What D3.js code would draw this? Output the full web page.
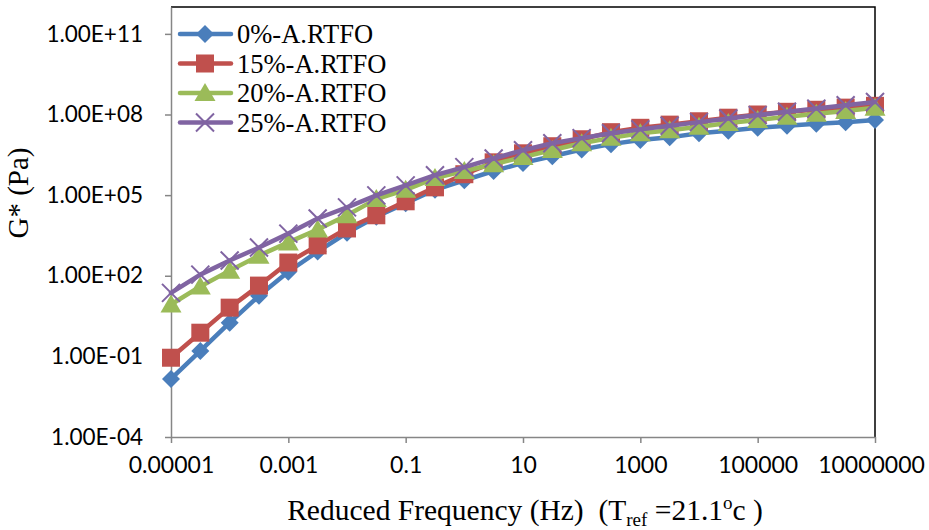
<!DOCTYPE html>
<html>
<head>
<meta charset="utf-8">
<script src="https://cdn.jsdelivr.net/npm/d3@7"></script>
<style>
	body { margin: 0; background: white; }
	svg { display: block; }
	.serif { font-family: 'Liberation Serif', 'Times New Roman', Tinos, 'DejaVu Serif', serif; }
</style>
</head>
<body>
<div id="chart"></div>
<script>
// reduced frequency (Hz), half-decade steps
var freq = [1e-5, 3.16e-5, 1e-4, 3.16e-4, 1e-3, 3.16e-3, 1e-2, 3.16e-2, 0.1, 0.316, 1, 3.16, 10, 31.6,
	100, 316, 1000, 3162, 1e4, 3.16e4, 1e5, 3.16e5, 1e6, 3.16e6, 1e7];

// G* (Pa) per binder
var g0 = [1.45e-2, 0.16, 1.8, 18, 141, 794, 3980, 1.58e4, 5.0e4, 1.58e5, 3.55e5, 7.9e5, 1.58e6, 2.8e6,
	5.0e6, 7.9e6, 1.12e7, 1.41e7, 2.0e7, 2.5e7, 3.2e7, 3.8e7, 4.5e7, 5.2e7, 6.3e7];
var g15 = [8.9e-2, 0.76, 6.5, 43, 310, 1350, 5750, 1.78e4, 5.9e4, 1.95e5, 6.0e5, 1.66e6, 3.6e6, 6.6e6,
	1.2e7, 2.2e7, 3.2e7, 4.2e7, 5.6e7, 7.6e7, 1.0e8, 1.26e8, 1.5e8, 1.8e8, 2.1e8];
var g20 = [8.5, 40, 155, 560, 1740, 5250, 1.78e4, 7.1e4, 1.58e5, 4.3e5, 7.9e5, 1.41e6, 2.6e6, 4.8e6,
	8.5e6, 1.35e7, 2.0e7, 2.6e7, 3.5e7, 4.8e7, 6.3e7, 8.3e7, 1.07e8, 1.35e8, 1.8e8];
var g25 = [23, 110, 370, 1120, 3700, 1.35e4, 3.5e4, 9.8e4, 2.3e5, 5.5e5, 1.1e6, 2.3e6, 4.7e6, 8.5e6,
	1.32e7, 2.0e7, 2.8e7, 3.8e7, 5.2e7, 7.1e7, 9.5e7, 1.26e8, 1.66e8, 2.2e8, 2.9e8];

var seriesNames = ['0%-A.RTFO', '15%-A.RTFO', '20%-A.RTFO', '25%-A.RTFO'];
var seriesValues = [g0, g15, g20, g25];

var xTicks = [1e-5, 1e-3, 0.1, 10, 1000, 1e5, 1e7];
var xTickLabels = ['0.00001', '0.001', '0.1', '10', '1000', '100000', '10000000'];
var yTicks = [1e-4, 1e-1, 1e2, 1e5, 1e8, 1e11];
var yTickLabels = ['1.00E-04', '1.00E-01', '1.00E+02', '1.00E+05', '1.00E+08', '1.00E+11'];

var colors = ['#4a7ebb', '#c0504d', '#9bbb59', '#8064a2'];
var shapes = ['diamond', 'square', 'triangle', 'cross'];

var width = 929;
var height = 530;
var plot = {left: 171, right: 875, top: 7, bottom: 437};

var svg = d3.select('#chart')
	.append('svg')
	.attr('width', width)
	.attr('height', height);

var x = d3.scaleLog()
	.domain([1e-5, 1e7])
	.range([plot.left, plot.right]);

var y = d3.scaleLog()
	.domain([1e-4, 1e12])
	.range([plot.bottom, plot.top]);

// plot frame (top/right)
svg.append('path')
	.attr('d', 'M' + plot.left + ',' + plot.top + 'H' + plot.right + 'V' + plot.bottom)
	.attr('fill', 'none')
	.attr('stroke', '#000')
	.attr('stroke-width', 1.5);

// x axis
var xAxis = svg.append('g')
	.attr('transform', 'translate(0,' + plot.bottom + ')')
	.call(d3.axisBottom(x)
		.tickValues(xTicks)
		.tickFormat(function(d, i) { return xTickLabels[i]; })
		.tickSize(6)
		.tickSizeOuter(0)
		.tickPadding(14));
xAxis.select('.domain').attr('stroke', '#868686').attr('stroke-width', 1.5);
xAxis.selectAll('.tick line').attr('stroke', '#868686').attr('stroke-width', 1.5);
xAxis.selectAll('.tick text')
	.style('font-family', 'Lato, sans-serif')
	.style('font-size', '23px')
	.attr('fill', '#000');
xAxis.selectAll('.tick:last-of-type text').attr('dx', -4);

// y axis
var yAxis = svg.append('g')
	.attr('transform', 'translate(' + plot.left + ',0)')
	.call(d3.axisLeft(y)
		.tickValues(yTicks)
		.tickFormat(function(d, i) { return yTickLabels[i]; })
		.tickSize(6)
		.tickSizeOuter(0)
		.tickPadding(22));
yAxis.select('.domain').attr('stroke', '#868686').attr('stroke-width', 1.5);
yAxis.selectAll('.tick line').attr('stroke', '#868686').attr('stroke-width', 1.5);
yAxis.selectAll('.tick text')
	.style('font-family', 'Lato, sans-serif')
	.style('font-size', '22.5px')
	.attr('fill', '#000');

// marker drawing
function draw_marker(g, shape, color) {
	if (shape == 'diamond') {
		g.append('path').attr('d', 'M0,-9L9,0L0,9L-9,0Z').attr('fill', color);
	} else if (shape == 'square') {
		g.append('rect').attr('x', -9).attr('y', -9).attr('width', 18).attr('height', 18).attr('fill', color);
	} else if (shape == 'triangle') {
		g.append('path').attr('d', 'M0,-10L10.5,8L-10.5,8Z').attr('fill', color);
	} else {
		g.append('path').attr('d', 'M-9,-9L9,9M-9,9L9,-9')
			.attr('stroke', color).attr('stroke-width', 2).attr('fill', 'none');
	}
}

var line = d3.line()
	.x(function(d) { return x(d[0]); })
	.y(function(d) { return y(d[1]); });

seriesValues.forEach(function(vals, s) {
	var pts = freq.map(function(f, i) { return [f, vals[i]]; });
	var g = svg.append('g');
	g.append('path')
		.datum(pts)
		.attr('d', line)
		.attr('fill', 'none')
		.attr('stroke', colors[s])
		.attr('stroke-width', 4.5)
		.attr('stroke-linejoin', 'round')
		.attr('stroke-linecap', 'round');
	g.selectAll('g.mk')
		.data(pts)
		.enter()
		.append('g')
			.attr('class', 'mk')
			.attr('transform', function(d) { return 'translate(' + x(d[0]) + ',' + y(d[1]) + ')'; })
			.each(function() { draw_marker(d3.select(this), shapes[s], colors[s]); });
});

// legend
var legend = svg.append('g');
seriesNames.forEach(function(name, i) {
	var ly = 34 + i * 29.5;
	legend.append('line')
		.attr('x1', 180).attr('x2', 231)
		.attr('y1', ly).attr('y2', ly)
		.attr('stroke', colors[i])
		.attr('stroke-width', 4.5)
		.attr('stroke-linecap', 'round');
	var mk = legend.append('g').attr('transform', 'translate(205,' + ly + ')');
	draw_marker(mk, shapes[i], colors[i]);
	legend.append('text')
		.attr('class', 'serif')
		.attr('x', 237)
		.attr('y', ly + 9)
		.text(name)
		.style('font-size', '26.5px')
		.attr('fill', '#000');
});

// y-axis title
svg.append('text')
	.attr('class', 'serif')
	.attr('transform', 'translate(28,193) rotate(-90)')
	.attr('text-anchor', 'middle')
	.style('font-size', '29px')
	.text('G*  (Pa)');

// x-axis title
var xt = svg.append('text')
	.attr('class', 'serif')
	.attr('x', 525)
	.attr('y', 520)
	.attr('text-anchor', 'middle')
	.style('font-size', '29.5px')
	.attr('xml:space', 'preserve');
xt.append('tspan').text('Reduced Frequency (Hz)  (T');
xt.append('tspan').attr('dy', 6).style('font-size', '19px').text('ref');
xt.append('tspan').attr('dy', -6).text(' =21.1');
xt.append('tspan').attr('dy', -11).style('font-size', '19px').text('o');
xt.append('tspan').attr('dy', 11).text('c )');
</script>
</body>
</html>
